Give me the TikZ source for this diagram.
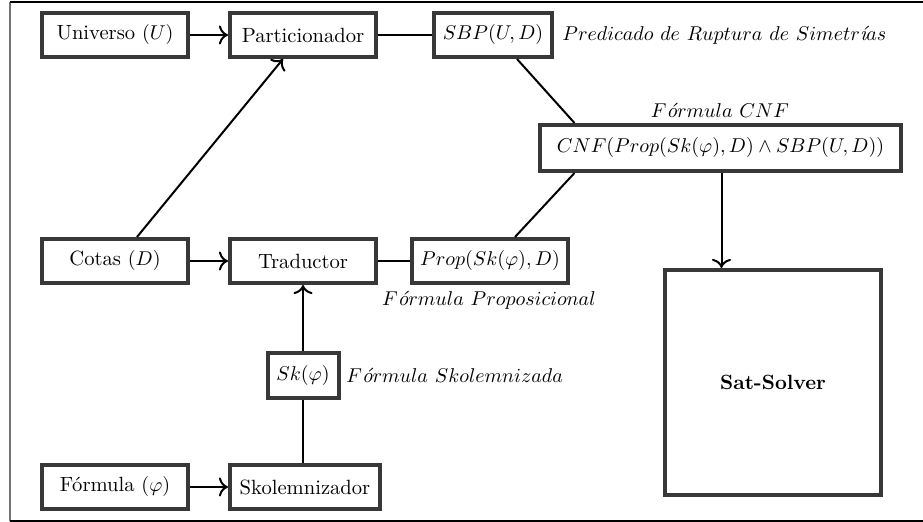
\documentclass[tikz,border=0pt]{standalone}
\usepackage{fontspec}
\usetikzlibrary{calc,arrows.meta}
\begin{document}
\begin{tikzpicture}[x=0.5pt,y=-0.5pt,
  every node/.style={font=\fontsize{10.3}{12.4}\selectfont},
  blk/.style={draw=black!78, line width=2pt, fill=white, minimum height=22pt, inner sep=2pt},
  wbox/.style={blk, minimum width=73pt},
  conn/.style={line width=1pt, black},
  arr/.style={conn, -{To[scale=1.2]}},
  lbl/.style={inner sep=0pt}
]
\useasboundingbox (0,0) rectangle (923,522);
% frame
\draw[black!55, line width=0.6pt] (10,2) -- (10,521);
\draw[black, line width=0.6pt] (10,2) -- (923,2);
\draw[black, line width=0.6pt] (10,521) -- (923,521);

% nodes
\node[wbox] (U) at (115,35) {Universo $(U)$};
\node[wbox] (P) at (303,35) {Particionador};
\node[blk, minimum width=59pt] (SBP) at (493,35) {$SBP(U,D)$};
\node[blk, minimum width=180.5pt, minimum height=23pt] (CNF) at (720.5,148) {$CNF(Prop(Sk(\varphi),D)\wedge SBP(U,D))$};
\node[wbox] (C) at (115,261) {Cotas $(D)$};
\node[wbox] (T) at (303,261) {Traductor};
\node[blk, minimum width=78pt] (PR) at (490,261) {$Prop(Sk(\varphi),D)$};
\node[blk, minimum width=35.5pt, minimum height=22.5pt] (SK) at (303,375.5) {$Sk(\varphi)$};
\node[wbox] (F) at (115,487) {Fórmula $(\varphi)$};
\node[wbox, minimum width=75pt] (S) at (305,487) {Skolemnizador};
\node[blk, minimum width=108pt, minimum height=112.5pt] (SAT) at (773,382.5) {\textbf{Sat-Solver}};

% labels
\node[lbl, anchor=west] (l1) at (562,35) {$Predicado\ de\ Ruptura\ de\ Simetr\textit{í}as$};
\node[lbl] (l2) at (720,110) {$F\textit{ó}rmula\ CNF$};
\node[lbl] (l3) at (489,300) {$F\textit{ó}rmula\ Proposicional$};
\node[lbl, anchor=west] (l4) at (346,375.5) {$F\textit{ó}rmula\ Skolemnizada$};

% connectors
\draw[arr] (U.east) -- (P.west);
\draw[conn] (P.east) -- (SBP.west);
\draw[arr] ([xshift=11pt]C.north) -- ([xshift=-10pt]P.south);
\draw[arr] (C.east) -- (T.west);
\draw[conn] (T.east) -- (PR.west);
\draw[arr] (SK.north) -- (SK.north |- T.south);
\draw[conn] (S.north -| SK.south) -- (SK.south);
\draw[arr] (F.east) -- (S.west);
\draw[conn] ([xshift=12pt]SBP.south) -- ([xshift=-73pt]CNF.north);
\draw[conn] ([xshift=12.5pt]PR.north) -- ([xshift=-73pt]CNF.south);
\draw[arr] ([xshift=0.5pt]CNF.south) -- ([xshift=0.5pt]CNF.south |- SAT.north);
\end{tikzpicture}
\end{document}
